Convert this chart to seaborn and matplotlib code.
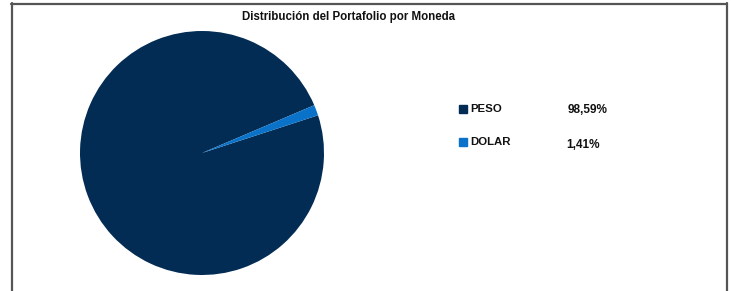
import matplotlib
matplotlib.use("Agg")
import matplotlib.pyplot as plt
import seaborn as sns
from matplotlib.lines import Line2D

# data
categories = ["PESO", "DOLAR"]
shares = [98.59, 1.41]
share_labels = ["98,59%", "1,41%"]
title = "Distribución del Portafolio por Moneda"

sns.set_theme(style="white")
plt.rcParams["font.family"] = ["Liberation Sans Narrow", "Liberation Sans", "DejaVu Sans"]

colors = ["#032C55", "#0A72C8"]

fig = plt.figure(figsize=(7.31, 2.91), dpi=100)
W, H = 731, 291

# pie axes: center ~(202,153) px, radius ~122 px
ax = fig.add_axes([(202 - 122) / W, (H - 153 - 122) / H, 244 / W, 244 / H])
wedges, _ = ax.pie(shares, colors=colors, startangle=18, counterclock=False,
                   wedgeprops=dict(linewidth=0))
ax.set_xlim(-1, 1)
ax.set_ylim(-1, 1)
ax.axis("off")

fig.text(349 / W, 1 - 17 / H, title, ha="center", va="center",
         fontsize=8.3, fontweight="bold", color="#111111")

# legend rows with values
rows_y = [109, 142]
val_y = [110, 145]
val_x = [588, 583]
for i, cat in enumerate(categories):
    fig.add_artist(Line2D([463 / W], [1 - rows_y[i] / H], marker="s", markersize=5.5,
                          color=colors[i], linestyle="none"))
    fig.text(470 / W, 1 - rows_y[i] / H, cat, ha="left", va="center",
             fontsize=8.2, fontweight="bold", color="#111111")
    fig.text(val_x[i] / W, 1 - val_y[i] / H, share_labels[i], ha="center", va="center",
             fontsize=8.5, fontweight="bold", color="#111111")

# chart frame (top, left, right)
fc = "#555555"
fig.add_artist(Line2D([11 / W, 727 / W], [1 - 3.5 / H, 1 - 3.5 / H], color=fc, lw=1.6))
fig.add_artist(Line2D([11.5 / W, 11.5 / W], [1 - 3 / H, 0], color=fc, lw=1.6))
fig.add_artist(Line2D([727 / W, 727 / W], [1 - 3 / H, 0], color=fc, lw=1.6))

fig.savefig("out.png", dpi=100, facecolor="white")
